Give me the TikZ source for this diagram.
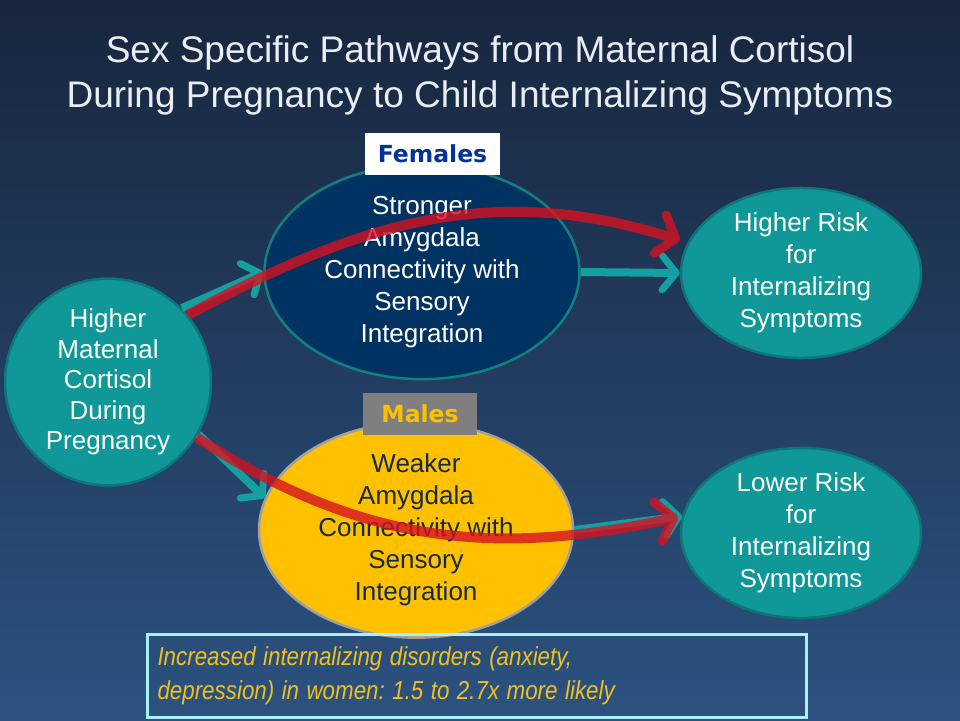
\documentclass[tikz,border=0pt]{standalone}
\usepackage{fontspec}
\setmainfont{Liberation Sans}
\newfontfamily\labelfont{DejaVu Sans}
\usetikzlibrary{shapes.geometric,arrows.meta}
\frenchspacing
\definecolor{bgtop}{RGB}{24,38,62}
\definecolor{bgbot}{RGB}{44,82,128}
\definecolor{tealfill}{RGB}{16,152,152}
\definecolor{tealedge}{RGB}{12,118,122}
\definecolor{tealarrow}{RGB}{20,160,160}
\definecolor{navyfill}{RGB}{0,50,98}
\definecolor{goldfill}{RGB}{255,192,0}
\definecolor{grayedge}{RGB}{160,160,160}
\definecolor{arrowred}{RGB}{214,18,32}
\definecolor{femblue}{RGB}{0,51,153}
\definecolor{boxedge}{RGB}{170,240,250}
\definecolor{notegold}{RGB}{240,192,30}
\definecolor{darktext}{RGB}{22,42,66}
\definecolor{titlecol}{RGB}{232,238,246}
\definecolor{malegray}{RGB}{127,127,127}
\tikzset{
  oval/.style={ellipse, inner sep=0pt, align=center, text=white, line width=2.5pt,
     font=\fontsize{26}{32}\selectfont},
  tealoval/.style={oval, fill=tealfill, draw=tealedge},
  tagbox/.style={rectangle, inner sep=0pt, font=\labelfont\bfseries\fontsize{23.5}{27}\selectfont},
  tealarr/.style={draw=tealarrow, line width=8pt,
     -{Straight Barb[length=14pt,width=34pt,line width=7pt,round]}},
  redarr/.style={draw=arrowred, line width=10pt,
     -{Straight Barb[length=16pt,width=40pt,line width=9pt,round]}},
}
\begin{document}
\begin{tikzpicture}[x=1pt,y=-1pt]
\useasboundingbox (0,0) rectangle (960,720);
\shade[top color=bgtop, bottom color=bgbot] (0,0) rectangle (960,720);

\node (title) at (480,75) [align=center, text=titlecol, font=\fontsize{37}{45}\selectfont]
  {Sex Specific Pathways from Maternal Cortisol\\During Pregnancy to Child Internalizing Symptoms};

\node (L) at (108,382) [tealoval, minimum width=206pt, minimum height=194pt, font=\fontsize{26}{30.5}\selectfont]
  {Higher\\Maternal\\Cortisol\\During\\Pregnancy};
\node (M1) at (422,272) [oval, fill=navyfill, draw=tealarrow!80!black, minimum width=315pt, minimum height=179pt]
  {Stronger\\Amygdala\\Connectivity with\\Sensory\\Integration};
\node (R1) at (801,273) [tealoval, minimum width=240pt, minimum height=157pt]
  {Higher Risk\\for\\Internalizing\\Symptoms};
\node (M2) at (416,530) [oval, fill=goldfill, draw=grayedge, text=darktext, minimum width=314pt, minimum height=173pt]
  {Weaker\\Amygdala\\Connectivity with\\Sensory\\Integration};
\node (R2) at (801,533) [tealoval, minimum width=240pt, minimum height=156pt]
  {Lower Risk\\for\\Internalizing\\Symptoms};

\node (fem) at (432.5,154) [tagbox, fill=white, text=femblue, minimum width=135pt, minimum height=42pt] {Females};
\node (mal) at (420,414) [tagbox, fill=malegray, text=goldfill, minimum width=114pt, minimum height=42pt] {Males};

\node (note) at (476.5,675.5) [draw=boxedge, line width=3pt, rectangle, minimum width=659pt, minimum height=83pt,
   inner xsep=9pt, inner ysep=0pt, text width=638pt, align=left, text=notegold,
   font=\itshape\fontsize{26}{34}\selectfont]
  {\scalebox{0.86}[1]{Increased internalizing disorders (anxiety,}\\
   \scalebox{0.86}[1]{depression) in women: 1.5 to 2.7x more likely}};

\draw[tealarr] (L.45) -- (M1.west);
\draw[tealarr] (M1.east) -- (R1.west);
\draw[tealarr] (L.-30) -- (M2.168);
\draw[tealarr] (M2.east) -- (R2.172);

\begin{scope}[transparency group, opacity=0.8]
\draw[redarr, shorten >=8pt] (L.40) .. controls +(178,-96) and +(-192,-60) .. (R1.165);
\end{scope}
\begin{scope}[transparency group, opacity=0.8]
\draw[redarr, shorten >=4pt] (L.-32) .. controls +(165,108) and +(-185,40) .. (R2.172);
\end{scope}
\end{tikzpicture}
\end{document}
